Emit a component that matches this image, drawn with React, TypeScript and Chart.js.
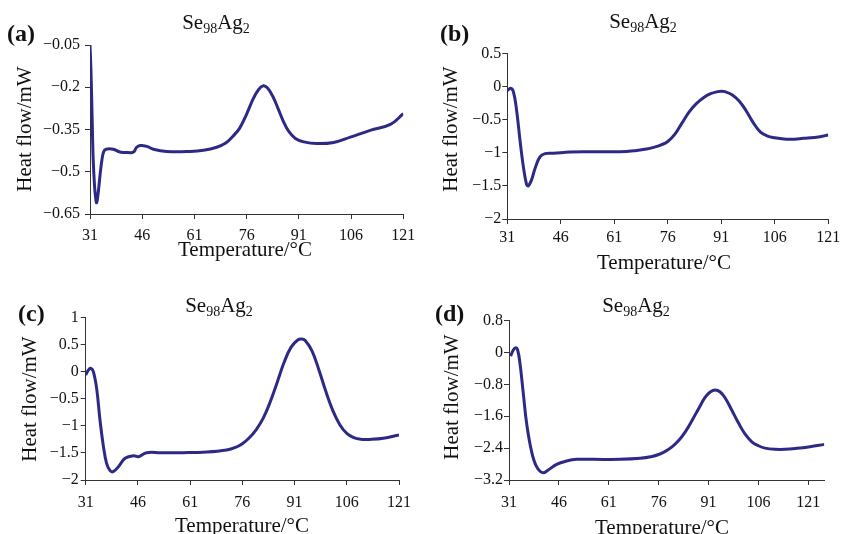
import { useEffect, useRef } from 'react';
import { Chart, registerables } from 'chart.js';

Chart.register(...registerables);

// ---------- data ----------
const xTicks = [31, 46, 61, 76, 91, 106, 121];

const aTemp = [31, 31.3, 31.6, 31.9, 32.3, 32.6, 32.9, 33.4, 33.9, 34.4, 34.9, 35.6, 37.7, 39.6, 42.0, 43.5, 44.4, 45.4, 47.3, 49.2, 53.0, 59.8, 63.6, 67.4, 70, 72, 74, 76, 78, 79.5, 80.8, 82, 83.5, 85, 86.5, 88, 90, 92.4, 96.2, 101, 105.8, 111.5, 117.3, 121];
const aHeat = [-0.05, -0.15, -0.3, -0.45, -0.55, -0.59, -0.61, -0.57, -0.51, -0.46, -0.43, -0.42, -0.42, -0.43, -0.432, -0.43, -0.413, -0.407, -0.41, -0.42, -0.428, -0.428, -0.424, -0.413, -0.398, -0.375, -0.345, -0.295, -0.238, -0.207, -0.195, -0.203, -0.232, -0.275, -0.32, -0.355, -0.382, -0.394, -0.40, -0.396, -0.377, -0.353, -0.332, -0.294];
const aYTicks = [-0.65, -0.5, -0.35, -0.2, -0.05];

const bTemp = [31, 31.9, 32.7, 33.6, 34.55, 35.5, 36.4, 36.9, 37.8, 38.8, 40.2, 41.6, 43.9, 48.6, 53.2, 62.6, 67.3, 70, 72, 74, 76, 78, 80, 82, 84, 86, 88, 90, 91, 92, 94, 96, 98, 100, 102, 104, 106, 108, 110.3, 114.0, 118.7, 121];
const bHeat = [-0.063, -0.028, -0.078, -0.355, -0.808, -1.21, -1.477, -1.5, -1.41, -1.235, -1.06, -1.014, -1.009, -0.989, -0.984, -0.984, -0.965, -0.945, -0.92, -0.885, -0.83, -0.72, -0.55, -0.385, -0.26, -0.17, -0.11, -0.078, -0.072, -0.078, -0.125, -0.22, -0.37, -0.55, -0.69, -0.75, -0.775, -0.79, -0.798, -0.783, -0.758, -0.732];
const bYTicks = [-2, -1.5, -1, -0.5, 0, 0.5];

const cTemp = [31, 31.8, 32.4, 33.2, 34.2, 35.1, 36.1, 37.0, 38.0, 38.9, 40.4, 42.3, 44.7, 46.1, 48.5, 52.4, 59, 65.8, 71.5, 74, 76, 78, 80, 82, 84, 86, 88, 90, 92, 93, 94, 96, 98, 100, 102, 104, 106, 108, 110, 113, 116.5, 121];
const cHeat = [-0.063, 0.029, 0.06, -0.002, -0.34, -0.893, -1.385, -1.693, -1.828, -1.846, -1.754, -1.6, -1.551, -1.57, -1.496, -1.496, -1.496, -1.484, -1.447, -1.4, -1.33, -1.22, -1.07, -0.86, -0.56, -0.2, 0.17, 0.45, 0.585, 0.6, 0.575, 0.38, 0.03, -0.37, -0.72, -0.98, -1.14, -1.22, -1.25, -1.25, -1.23, -1.17];
const cYTicks = [-2, -1.5, -1, -0.5, 0, 0.5, 1];

const dTemp = [31.5, 32.3, 33.0, 33.6, 34.3, 35.3, 36.3, 37.8, 39.3, 41.1, 42.8, 45.3, 48.3, 51.3, 56.4, 64.4, 70.4, 74, 76, 78, 80, 82, 84, 86, 88, 90, 91.5, 93, 94.5, 96, 98, 100, 102, 104, 106, 108, 111, 114, 117.5, 121.5, 125.8];
const dHeat = [-0.087, 0.064, 0.122, 0.064, -0.271, -1.024, -1.777, -2.489, -2.865, -3.016, -2.949, -2.807, -2.723, -2.681, -2.681, -2.681, -2.656, -2.61, -2.56, -2.48, -2.37, -2.21, -1.99, -1.71, -1.41, -1.12, -0.99, -0.94, -0.99, -1.14, -1.45, -1.77, -2.05, -2.24, -2.34, -2.4, -2.43, -2.43, -2.405, -2.363, -2.305];
const dYTicks = [-3.2, -2.4, -1.6, -0.8, 0, 0.8];

const panelLetters = ['(a)', '(b)', '(c)', '(d)'];
const titleParts: [string, boolean][] = [['Se', false], ['98', true], ['Ag', false], ['2', true]];
const yTitle = 'Heat flow/mW';
const xTitle = 'Temperature/°C';

// ---------- layout / style ----------
const FONT = '"Liberation Serif", "Times New Roman", serif';
const LINE = '#2D2A87';
const AXIS = '#333';

type Layout = {
  ox: number; oy: number; w: number; h: number;
  L: number; R: number; T: number; B: number;
  xMax: number; yPad: number; xPad: number;
  letterX: number; letterY: number;
  titleX: number; titleY: number;
  yTitleX: number; yTitleY: number;
  xTitleX: number; xTitleY: number;
};

const panels: { temp: number[]; heat: number[]; yTicks: number[]; letter: string; lay: Layout }[] = [
  {
    temp: aTemp, heat: aHeat, yTicks: aYTicks, letter: panelLetters[0],
    lay: { ox: 0, oy: 0, w: 420, h: 275, L: 90, R: 403.3, T: 45, B: 214, xMax: 121, yPad: 5, xPad: 7,
      letterX: 7, letterY: 41, titleX: 216, titleY: 28.5, yTitleX: 25, yTitleY: 129, xTitleX: 245, xTitleY: 256 },
  },
  {
    temp: bTemp, heat: bHeat, yTicks: bYTicks, letter: panelLetters[1],
    lay: { ox: 420, oy: 0, w: 421, h: 275, L: 507.3, R: 828.3, T: 53.3, B: 219, xMax: 121, yPad: 1, xPad: 4,
      letterX: 440, letterY: 41, titleX: 643, titleY: 28, yTitleX: 451, yTitleY: 129, xTitleX: 664, xTitleY: 269 },
  },
  {
    temp: cTemp, heat: cHeat, yTicks: cYTicks, letter: panelLetters[2],
    lay: { ox: 0, oy: 275, w: 420, h: 259, L: 85.7, R: 399, T: 317.3, B: 480, xMax: 121, yPad: 2, xPad: 8,
      letterX: 18, letterY: 321, titleX: 219, titleY: 311.5, yTitleX: 30, yTitleY: 399, xTitleX: 242, xTitleY: 532 },
  },
  {
    temp: dTemp, heat: dHeat, yTicks: dYTicks, letter: panelLetters[3],
    lay: { ox: 420, oy: 275, w: 421, h: 259, L: 509, R: 824.3, T: 320.7, B: 480, xMax: 125.8, yPad: 1, xPad: 8,
      letterX: 435, letterY: 321, titleX: 636, titleY: 311.5, yTitleX: 452, yTitleY: 397, xTitleX: 662, xTitleY: 534 },
  },
];

const Y_W = 64;
const X_H = 36;

const fmt = (v: number) => (v < 0 ? '\u2212' : '') + String(Math.abs(Number(v.toFixed(2))));

const textPlugin = {
  id: 'panelText',
  afterDraw(chart: any, _args: any, opts: any) {
    const ctx = chart.ctx as CanvasRenderingContext2D;
    const p: Layout = opts.lay;
    ctx.save();
    ctx.fillStyle = '#111';
    // panel letter
    ctx.font = `bold 24px ${FONT}`;
    ctx.textAlign = 'left';
    ctx.textBaseline = 'alphabetic';
    ctx.fillText(opts.letter, p.letterX - p.ox, p.letterY - p.oy);
    // title with subscripts
    const big = `21px ${FONT}`;
    const small = `14px ${FONT}`;
    let total = 0;
    for (const [t, sub] of titleParts) {
      ctx.font = sub ? small : big;
      total += ctx.measureText(t).width;
    }
    let x = p.titleX - p.ox - total / 2;
    for (const [t, sub] of titleParts) {
      ctx.font = sub ? small : big;
      ctx.fillText(t, x, p.titleY - p.oy + (sub ? 4 : 0));
      x += ctx.measureText(t).width;
    }
    // y title
    ctx.save();
    ctx.translate(p.yTitleX - p.ox, p.yTitleY - p.oy);
    ctx.rotate(-Math.PI / 2);
    ctx.font = `21px ${FONT}`;
    ctx.textAlign = 'center';
    ctx.textBaseline = 'middle';
    ctx.fillText(yTitle, 0, 0);
    ctx.restore();
    // x title
    ctx.font = `21px ${FONT}`;
    ctx.textAlign = 'center';
    ctx.textBaseline = 'alphabetic';
    ctx.fillText(xTitle, p.xTitleX - p.ox, p.xTitleY - p.oy);
    ctx.restore();
  },
};

function Panel({ idx }: { idx: number }) {
  const ref = useRef<HTMLCanvasElement>(null);
  const pn = panels[idx];
  const lay = pn.lay;
  useEffect(() => {
    const chart = new Chart(ref.current as HTMLCanvasElement, {
      type: 'line',
      data: {
        datasets: [
          {
            data: pn.temp.map((t, i) => ({ x: t, y: pn.heat[i] })),
            borderColor: LINE,
            borderWidth: 3,
            pointRadius: 0,
            fill: false,
            tension: 0.4,
          },
        ],
      },
      options: {
        animation: false,
        responsive: false,
        devicePixelRatio: 1,
        events: [],
        layout: {
          padding: {
            left: lay.L - lay.ox - Y_W,
            right: lay.ox + lay.w - lay.R,
            top: lay.T - lay.oy,
            bottom: lay.oy + lay.h - lay.B - X_H,
          },
        },
        plugins: {
          legend: { display: false },
          tooltip: { enabled: false },
          title: { display: false },
          panelText: { lay, letter: pn.letter },
        } as any,
        scales: {
          x: {
            type: 'linear',
            min: 31,
            max: lay.xMax,
            afterBuildTicks: (s: any) => {
              s.ticks = xTicks.map((v) => ({ value: v }));
            },
            afterFit: (s: any) => {
              s.height = X_H;
              s.paddingLeft = 0;
              s.paddingRight = 0;
            },
            grid: { drawOnChartArea: false, drawTicks: true, tickLength: 5, color: AXIS, lineWidth: 1 },
            border: { display: true, color: AXIS, width: 1 },
            ticks: {
              autoSkip: false,
              maxRotation: 0,
              padding: lay.xPad,
              color: '#111',
              font: { family: FONT, size: 16 },
              callback: (v: any) => String(v),
            },
          },
          y: {
            type: 'linear',
            min: pn.yTicks[0],
            max: pn.yTicks[pn.yTicks.length - 1],
            afterBuildTicks: (s: any) => {
              s.ticks = pn.yTicks.map((v) => ({ value: v }));
            },
            afterFit: (s: any) => {
              s.width = Y_W;
              s.paddingTop = 0;
              s.paddingBottom = 0;
            },
            grid: { drawOnChartArea: false, drawTicks: true, tickLength: 5, color: AXIS, lineWidth: 1 },
            border: { display: true, color: AXIS, width: 1 },
            ticks: {
              autoSkip: false,
              padding: lay.yPad,
              color: '#111',
              font: { family: FONT, size: 16 },
              callback: (v: any) => fmt(Number(v)),
            },
          },
        },
      },
      plugins: [textPlugin as any],
    } as any);
    return () => chart.destroy();
  }, []);
  return (
    <canvas
      ref={ref}
      width={lay.w}
      height={lay.h}
      style={{ position: 'absolute', left: lay.ox, top: lay.oy, width: lay.w, height: lay.h }}
    />
  );
}

export default function App() {
  return (
    <div style={{ position: 'absolute', left: 0, top: 0, width: 841, height: 534, background: '#fff', overflow: 'hidden' }}>
      {panels.map((_, i) => (
        <Panel key={i} idx={i} />
      ))}
    </div>
  );
}
